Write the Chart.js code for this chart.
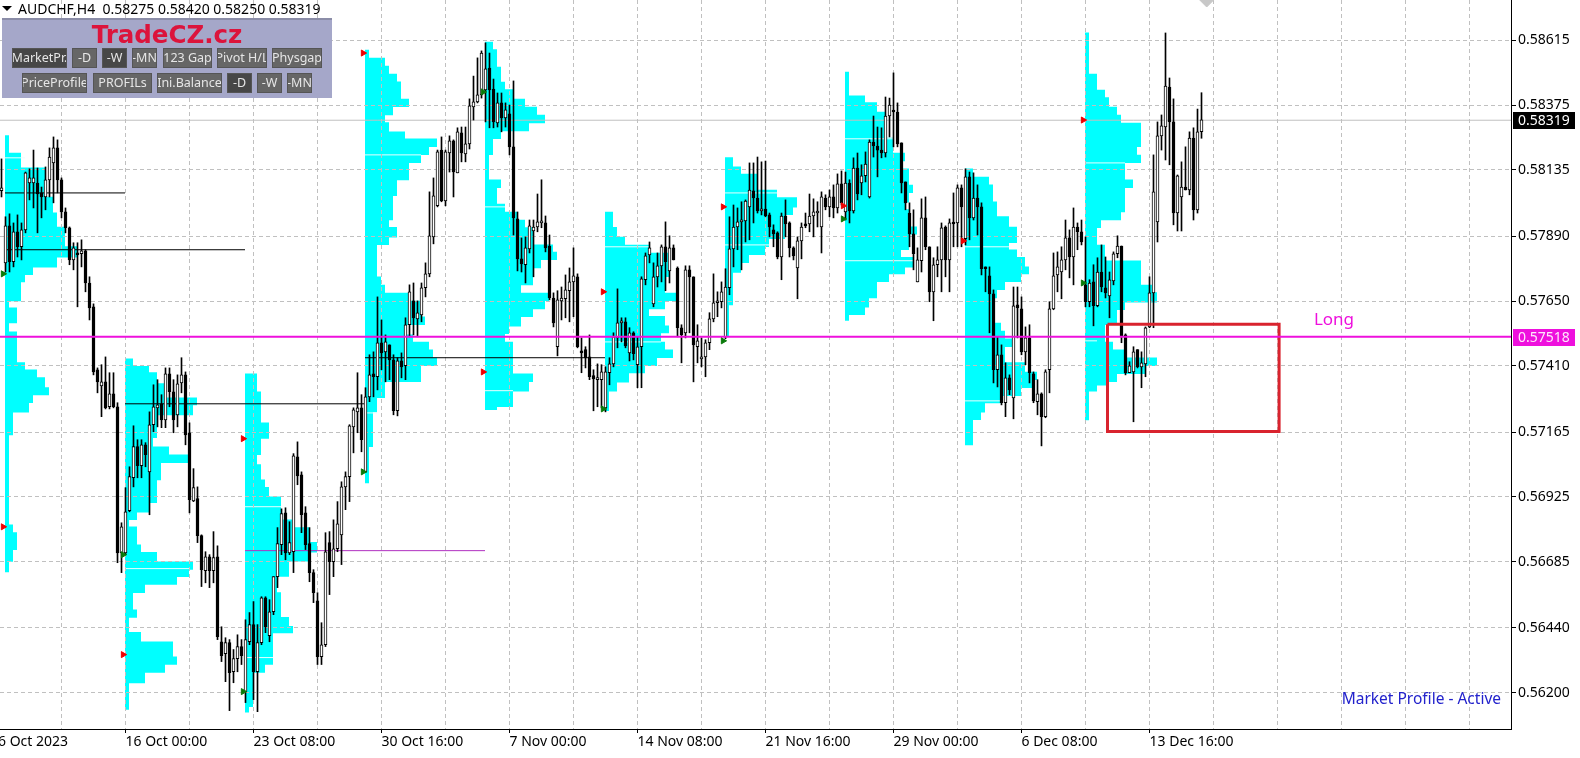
<!DOCTYPE html>
<html lang="en">

<head>
  <meta charset="UTF-8" />
  <title>AUDCHF,H4</title>
  <script src="https://cdn.jsdelivr.net/npm/chart.js"></script>
  <style>
    html, body { margin: 0; background: #fff; overflow: hidden; }
    #wrap { position: relative; width: 1580px; height: 758px; font-family: "Noto Sans", sans-serif; }
    canvas { position: absolute; left: 0; top: 0; }
    #head { position: absolute; left: 18px; top: 0; font-size: 14px; line-height: 18px; white-space: pre; color: #000; }
    #tri { position: absolute; left: 2px; top: 6px; border-left: 5px solid transparent; border-right: 5px solid transparent; border-top: 5px solid #000; }
    #panel { position: absolute; left: 2px; top: 18px; width: 330px; height: 80px; background: #a5a7c9; border-top: 2px solid #8b8da8; box-sizing: border-box; }
    #brand { position: absolute; left: 0; width: 330px; top: 2px; text-align: center; font: bold 24.5px/26px "DejaVu Sans", sans-serif; color: #dc143c; }
    .btn { position: absolute; height: 20px; line-height: 18px; background: #666; color: #e6e6e6; font-size: 12.5px; text-align: center; overflow: hidden; white-space: nowrap; box-sizing: border-box; border: 1px solid #555; display: flex; justify-content: center; }
    .btn.on { background: #474747; }
  </style>
</head>

<body>
  <div id="wrap">
    <canvas id="chart" width="1580" height="758"></canvas>
    <div id="tri"></div>
    <div id="head">AUDCHF,H4  0.58275 0.58420 0.58250 0.58319</div>
    <div id="panel"><div id="brand">TradeCZ.cz</div></div>
  </div>
  <script>
    // H4 candles, one entry per bar, in points of the 5th decimal
    const opens = [
      58054,57785,57923,57789,57901,57845,57908,58083,58083,58083,
      58046,58031,58095,58158,58214,58095,57975,57916,57796,57822,
      57819,57830,57710,57621,57386,57326,57341,57248,57296,57248,
      56703,56703,56860,56983,57099,57028,57106,57005,57181,57244,
      57259,57199,57371,57304,57218,57337,57367,57151,56897,56905,
      56767,56636,56688,56636,56688,56371,56327,56368,56259,56308,
      56353,56185,56371,56435,56259,56368,56535,56394,56483,56614,
      56733,56852,56703,56707,57061,56994,56852,56737,56629,56524,
      56315,56360,56741,56670,56718,56770,56949,56987,57173,57229,
      57244,57005,57285,57371,57360,57487,57453,57479,57423,57233,
      57419,57401,57554,57643,57576,57591,57692,57744,57882,57998,
      58206,58016,58195,58240,58121,58270,58192,58229,58367,58386,
      58412,58430,58512,58434,58307,58382,58326,58341,58218,57949,
      57800,57778,57837,57904,57919,57934,57934,57848,57654,57472,
      57643,57651,57681,57714,57733,57457,57461,57434,57364,57349,
      57349,57244,57375,57408,57505,57561,57565,57449,57524,57405,
      57472,57722,57815,57632,57733,57774,57845,57755,57841,57766,
      57543,57524,57759,57733,57472,57427,57434,57487,57576,57636,
      57640,57509,57692,57837,57919,57938,57942,57994,58054,58027,
      57979,57986,57964,57908,57897,57807,57960,57934,57841,57766,
      57867,57930,57930,57960,57971,57919,58027,57994,58031,57990,
      58080,57975,58083,57979,58139,58083,58110,58031,58236,58221,
      58206,58195,58333,58352,58348,58233,58087,57971,57893,57714,
      57793,57953,57845,57677,57778,57796,57919,57796,57934,57934,
      58065,57875,58106,57953,58027,57994,57766,57737,57669,57386,
      57442,57263,57356,57281,57628,57613,57453,57505,57371,57267,
      57296,57211,57386,57613,57740,57751,57796,57878,57807,57919,
      57901,57703,57640,57714,57625,57751,57692,57662,57718,57819,
      57848,57516,57375,57378,57461,57397,57408,57546,57673,57938,
      58259,58292,58441,58311,57971,58031,58068,58057,58251,57983,
      58275];
    const highs = [
      58173,57957,57968,57934,57964,57934,58124,58136,58206,58139,
      58068,58143,58214,58255,58244,58102,57990,57919,57860,57860,
      57871,57834,57733,57632,57393,57405,57434,57375,57375,57263,
      56815,56946,57024,57177,57125,57125,57114,57229,57330,57349,
      57293,57393,57393,57349,57367,57431,57378,57188,57017,56949,
      56770,56707,56696,56782,56729,56427,56386,56379,56342,56397,
      56379,56453,56480,56521,56435,56539,56539,56528,56614,56797,
      56867,56871,56819,57073,57117,57005,56875,56797,56640,56554,
      56442,56778,56782,56826,56894,56968,57005,57181,57244,57375,
      57293,57319,57442,57453,57658,57572,57516,57479,57442,57431,
      57449,57580,57703,57710,57643,57710,57785,58050,58102,58206,
      58255,58206,58259,58244,58289,58292,58292,58397,58482,58550,
      58576,58606,58568,58471,58419,58419,58382,58374,58464,57975,
      57878,57882,57945,57945,58042,58095,57960,57889,57673,57681,
      57695,57740,57766,57841,57744,57505,57472,57516,57386,57408,
      57405,57397,57431,57524,57688,57580,57580,57543,57528,57509,
      57733,57822,57863,57785,57822,57852,57938,57886,57852,57770,
      57554,57774,57774,57733,57554,57505,57498,57599,57744,57677,
      57714,57763,57957,58001,57990,58013,58020,58158,58158,58180,
      58162,58165,57971,57927,57901,57971,58020,57938,57845,57882,
      57934,57971,58042,58024,58013,58050,58039,58057,58076,58117,
      58128,58124,58095,58177,58195,58151,58199,58244,58333,58292,
      58289,58404,58400,58494,58382,58233,58087,58009,57983,57841,
      58024,58031,57845,57804,57845,57934,57923,57949,58046,58076,
      58076,58136,58124,58121,58076,58009,57770,57770,57684,57509,
      57479,57412,57367,57695,57695,57658,57546,57554,57378,57349,
      57300,57386,57640,57822,57826,57845,57945,57908,57990,57934,
      57945,57882,57722,57778,57804,57852,57807,57751,57826,57886,
      57848,57520,57416,57472,57461,57453,57546,57733,58188,58311,
      58337,58643,58475,58397,58113,58162,58218,58274,58289,58359,
      58420];
    const lows = [
      58031,57751,57751,57770,57807,57796,57897,58020,57990,57897,
      57953,57983,58031,58009,58046,57953,57897,57778,57759,57621,
      57770,57677,57572,57367,57300,57211,57240,57240,57244,56666,
      56629,56696,56856,56949,56983,56983,57024,56845,57155,57173,
      57170,57170,57248,57151,57173,57300,57106,56852,56894,56741,
      56577,56591,56573,56591,56379,56297,56222,56114,56218,56259,
      56286,56144,56360,56155,56110,56360,56405,56371,56472,56573,
      56696,56677,56696,56629,56957,56778,56715,56595,56517,56286,
      56286,56353,56547,56614,56707,56659,56864,56894,57076,57151,
      57080,57002,57267,57285,57311,57386,57341,57349,57218,57214,
      57356,57349,57509,57516,57509,57565,57658,57733,57856,57994,
      58013,57998,58124,58031,58121,58162,58162,58210,58318,58382,
      58400,58311,58289,58289,58292,58274,58292,58188,57889,57755,
      57751,57710,57822,57733,57901,57916,57826,57647,57546,57438,
      57572,57580,57565,57584,57468,57375,57393,57349,57233,57248,
      57244,57229,57330,57397,57468,57490,57468,57419,57423,57319,
      57319,57703,57785,57621,57695,57714,57681,57710,57796,57509,
      57412,57505,57524,57341,57412,57397,57360,57461,57565,57584,
      57617,57502,57666,57770,57834,57759,57863,57871,57934,57971,
      57964,57957,57882,57845,57800,57722,57882,57807,57796,57651,
      57800,57916,57901,57882,57919,57822,57983,57957,57953,57971,
      58001,57945,57934,57971,58020,58039,58087,58027,58180,58106,
      58177,58180,58255,58218,58218,58046,57983,57845,57759,57714,
      57751,57834,57640,57569,57733,57677,57733,57677,57845,57845,
      57845,57852,57871,57945,57889,57740,57677,57524,57337,57322,
      57255,57211,57293,57203,57505,57442,57405,57337,57263,57218,
      57102,57207,57300,57610,57677,57651,57759,57729,57703,57834,
      57852,57621,57621,57550,57621,57677,57654,57580,57703,57804,
      57487,57367,57375,57192,57393,57319,57360,57543,57543,57863,
      58206,58169,58151,57927,57904,57904,58057,58039,57945,57971,
      58250];
    const closes = [
      58065,57923,57789,57901,57845,57908,58121,58102,58102,58042,
      58031,58095,58180,58214,58095,57975,57916,57796,57841,57815,
      57830,57710,57617,57378,57341,57341,57244,57296,57248,56703,
      56800,56856,56987,57099,57028,57106,57069,57181,57248,57255,
      57199,57371,57304,57199,57334,57367,57143,56901,56946,56767,
      56640,56688,56636,56685,56390,56319,56368,56256,56308,56353,
      56319,56379,56435,56259,56368,56535,56427,56483,56614,56737,
      56849,56703,56741,57065,56990,56845,56733,56629,56554,56315,
      56360,56707,56670,56718,56811,56949,56987,57177,57237,57244,
      57125,57285,57367,57360,57487,57449,57490,57423,57233,57419,
      57397,57554,57677,57580,57599,57692,57744,57886,58035,58199,
      58016,58199,58240,58124,58274,58195,58229,58371,58386,58412,
      58568,58509,58430,58311,58382,58326,58356,58218,57953,57800,
      57781,57841,57923,57919,57938,57938,57841,57654,57561,57647,
      57654,57684,57714,57737,57472,57449,57431,57360,57352,57352,
      57378,57378,57408,57509,57561,57565,57475,57524,57446,57472,
      57725,57811,57841,57733,57774,57845,57789,57841,57796,57543,
      57516,57759,57733,57479,57494,57434,57487,57576,57636,57640,
      57677,57695,57837,57919,57938,57942,58016,58057,58027,57979,
      57986,57960,57919,57893,57807,57960,57930,57841,57811,57867,
      57919,57923,57960,57975,57975,58031,57994,58031,57990,58080,
      58009,58083,57979,58139,58042,58110,58154,58236,58221,58206,
      58195,58333,58374,58348,58229,58083,58009,57893,57819,57796,
      57953,57845,57677,57778,57796,57916,57796,57934,57930,58065,
      57994,58106,57953,58027,57994,57763,57763,57669,57386,57442,
      57263,57356,57311,57625,57617,57453,57505,57375,57270,57296,
      57211,57378,57613,57737,57770,57796,57878,57807,57919,57901,
      57863,57640,57710,57625,57751,57695,57673,57722,57819,57848,
      57509,57375,57401,57453,57397,57412,57543,57673,58050,58259,
      58296,58445,58311,57971,58110,58068,58057,58251,57983,58274,
      58319];

    // Market profiles: where each week starts, price of each step, TPO count of each step
    const profileStarts = [0.875, 30.875, 60.875, 90.875, 120.875, 150.875, 180.875, 210.875, 240.875, 270.875];
    const profileLevels = [
      [58259,58195,58139,58031,57971,57919,57845,57807,57770,57740,57714,57643,57617,57561,57528,57412,57386,57356,57319,57293,57263,57229,57143,56808,56778,56715,56670,56632],
      [57427,57397,57375,57334,57281,57255,57218,57132,57099,57069,57039,56976,56890,56856,56826,56800,56733,56703,56670,56640,56614,56584,56554,56491,56461,56405,56371,56315,56286,56256,56218,56118],
      [57371,57304,57188,57129,57069,57032,56976,56946,56912,56826,56797,56741,56707,56673,56614,56554,56461,56427,56405,56286,56256,56129,56110],
      [58580,58550,58520,58490,58460,58397,58367,58337,58307,58274,58248,58218,58188,58158,58095,58035,57945,57916,57882,57852,57733,57703,57673,57643,57584,57554,57516,57490,57461,57431,57401,57341,57281,57229,57099,57002,56964],
      [58609,58580,58516,58460,58430,58397,58367,58337,58307,58277,58248,58188,58095,58065,58005,57975,57945,57916,57852,57826,57796,57766,57703,57673,57643,57613,57584,57550,57520,57490,57371,57341,57308,57248,57240],
      [57975,57916,57882,57852,57822,57733,57673,57643,57613,57584,57550,57524,57490,57461,57431,57401,57375,57341,57308,57233],
      [58177,58143,58117,58057,58027,57994,57964,57875,57845,57815,57785,57751,57628,57509],
      [58497,58408,58382,58348,58318,58251,58195,58165,58136,58076,58046,58013,57983,57919,57893,57834,57804,57770,57744,57714,57654,57621,57591,57572],
      [58136,58106,58076,58013,57957,57919,57860,57834,57804,57770,57744,57714,57684,57654,57561,57531,57502,57472,57412,57378,57349,57319,57289,57263,57229,57199,57106],
      [58643,58490,58430,58400,58367,58337,58307,58218,58188,58158,58095,58065,57975,57945,57916,57852,57793,57703,57673,57640,57610,57554,57490,57461,57431,57401,57371,57341,57330,57308,57199]
    ];
    const profileCounts = [
      [1,4,10,12,13,15,18,13,7,5,4,1,3,1,3,5,8,10,11,7,6,2,1,2,3,2,1],
      [2,6,8,10,18,17,8,7,11,16,9,8,6,3,1,3,4,8,17,16,13,5,2,3,1,4,12,13,10,5,1],
      [3,4,6,4,3,4,5,6,9,12,16,18,16,11,8,9,11,12,7,5,2,1],
      [1,5,6,8,9,11,7,5,6,10,18,16,14,11,8,7,6,8,6,3,4,5,11,14,15,10,12,16,17,18,14,5,3,2,1,1],
      [2,3,4,5,7,10,13,15,11,4,2,1,4,3,5,8,10,12,17,18,14,12,9,16,15,12,9,6,5,7,12,11,7,3],
      [2,3,5,11,16,15,18,15,11,15,16,14,15,17,13,10,6,3,1],
      [2,4,8,13,18,17,15,11,10,6,4,2,1],
      [1,5,8,10,10,12,15,14,16,17,16,15,16,18,16,14,17,15,11,8,6,5,1],
      [2,6,7,8,11,13,11,13,15,16,14,10,8,7,9,10,12,10,15,18,17,14,9,5,4,2],
      [1,3,5,6,8,9,14,13,14,10,12,10,9,4,3,5,14,17,18,10,8,5,7,10,18,15,8,6,3,1]
    ];
    // value area edges: profile number, price, count
    const vaProfile = [0, 1, 2, 2, 3, 3, 4, 4, 5, 5, 6, 6, 7, 7, 8, 8, 9, 9];
    const vaPrices = [58177, 56644, 56875, 56312, 58188, 57225, 57994, 57308, 57845, 57490, 58046, 57852, 58248, 57793, 57845, 57270, 58158, 57494];
    const vaCounts = [5, 16, 9, 7, 14, 3, 5, 7, 11, 14, 13, 11, 12, 17, 11, 9, 10, 3];

    // POC lines running on from a profile, two weeks long except the first
    const pocStart = [0.875, 0.875, 30.875, 90.875];
    const pocEnd = [30.875, 60.875, 90.875, 150.875];
    const pocPrice = [58046, 57834, 57259, 57431];
    const purpleStart = 60.875, purpleEnd = 120.875, purplePrice = 56711;

    const redBars = [0.4, 30.4, 60.4, 90.4, 120.4, 150.4, 180.4, 210.4, 240.4, 270.4];
    const redPrices = [56800, 56323, 57129, 58568, 57378, 57677, 57994, 57998, 57867, 58318];
    const greenBars = [0.4, 30.4, 60.4, 90.4, 120.4, 150.4, 180.4, 210.4, 270.4];
    const greenPrices = [57744, 56696, 56185, 57005, 58423, 57240, 57494, 57949, 57710];

    const priceTicks = [0.58615, 0.58375, 0.58135, 0.57890, 0.57650, 0.57410, 0.57165, 0.56925, 0.56685, 0.56440, 0.56200];
    const timeBars = [-0.875, 31, 63, 95, 127, 159, 191, 223, 255, 287];
    const timeLabels = ["6 Oct 2023", "16 Oct 00:00", "23 Oct 08:00", "30 Oct 16:00", "7 Nov 00:00", "14 Nov 08:00", "21 Nov 16:00", "29 Nov 00:00", "6 Dec 08:00", "13 Dec 16:00"];
    const gridBars = [-0.875];
    for (let b = 15; b <= 367; b += 16) gridBars.push(b);

    const bidPrice = 0.58319;
    const linePrice = 0.57518;
    const boxBars = [276.5, 319.4], boxPrices = [0.57564, 0.57167];

    const xMin = -0.375, xMax = 377.375, yMin = 0.56066, yMax = 0.58764;

    // the arrays were read against the first ruler I measured, this puts them on the price axis
    const price = p => (58764 - 0.9917 * (58766 - p)) / 100000;

    const wicks = [], bodies = [], bodyFill = [];
    for (let i = 0; i < opens.length; i++) {
      wicks.push({ x: i, y: [price(lows[i]), price(highs[i])] });
      bodies.push({ x: i, y: [price(opens[i]), price(closes[i])] });
      bodyFill.push(closes[i] >= opens[i] ? '#fff' : '#000');
    }

    const gap = { x: null, y: null };
    const rows = [];
    profileLevels.forEach((levels, n) => {
      const start = profileStarts[n];
      profileCounts[n].forEach((count, k) => {
        const high = levels[k], low = levels[k + 1];
        const steps = Math.ceil((high - low) / 15);
        for (let s = 0; s < steps; s++) {
          const p = price(high - (high - low) * (s + 0.5) / steps);
          rows.push({ x: start, y: p }, { x: start + count, y: p }, gap);
        }
      });
    });

    const vaLines = [];
    vaPrices.forEach((p, k) => {
      const start = profileStarts[vaProfile[k]];
      vaLines.push({ x: start, y: price(p) }, { x: start + vaCounts[k], y: price(p) }, gap);
    });

    const pocLines = [];
    pocPrice.forEach((p, k) => {
      pocLines.push({ x: pocStart[k], y: price(p) }, { x: pocEnd[k], y: price(p) }, gap);
    });

    const lineSet = (data, color, width, order, extra) => Object.assign({
      type: 'line', data, borderColor: color, borderWidth: width, order,
      pointRadius: 0, spanGaps: false, tension: 0, fill: false
    }, extra || {});

    const dotSet = (xs, ys, color, style, radius) => ({
      type: 'line', showLine: false, order: 0, pointStyle: style, pointRadius: radius,
      pointRotation: style === 'triangle' ? 90 : 0,
      pointBackgroundColor: color, pointBorderColor: color, pointBorderWidth: 1,
      data: xs.map((x, k) => ({ x, y: price(ys[k]) }))
    });

    // profile goes under the grid, candles above it, so paint the grid again in between
    const regrid = {
      id: 'regrid',
      beforeDatasetDraw(chart, args) {
        if (chart.data.datasets[args.index].regrid) {
          chart.scales.x.drawGrid(chart.chartArea);
          chart.scales.y.drawGrid(chart.chartArea);
        }
      }
    };

    const notes = {
      id: 'notes',
      afterDraw(chart) {
        const ctx = chart.ctx, x = chart.scales.x, y = chart.scales.y;
        ctx.save();
        ctx.textBaseline = 'middle';
        ctx.textAlign = 'left';
        ctx.font = '14px "Noto Sans"';
        [[bidPrice, '#000', '#fff'], [linePrice, '#ee10dd', '#ffe6fb']].forEach(tag => {
          const py = Math.round(y.getPixelForValue(tag[0]));
          ctx.fillStyle = tag[1];
          ctx.fillRect(1513, py - 8, 62, 17);
          ctx.fillStyle = tag[2];
          ctx.fillText(tag[0].toFixed(5), 1518, py + 1);
        });
        ctx.fillStyle = '#ee10dd';
        ctx.font = '17px "Noto Sans"';
        ctx.fillText('Long', x.getPixelForValue(328.1), y.getPixelForValue(0.57580));
        ctx.fillStyle = '#2222cc';
        ctx.font = '15.5px "Noto Sans"';
        ctx.textAlign = 'right';
        ctx.fillText('Market Profile - Active', 1501, 700);
        ctx.restore();
      }
    };

    Chart.defaults.font.family = '"Noto Sans", sans-serif';
    Chart.defaults.font.size = 14;
    Chart.defaults.color = '#000';

    new Chart(document.getElementById('chart'), {
      type: 'bar',
      data: {
        datasets: [
          lineSet(rows, '#00ffff', 4.4, 10),
          lineSet(vaLines, '#e8ffff', 1, 9),
          lineSet(pocLines, '#000', 1, 8, { regrid: true }),
          lineSet([{ x: purpleStart, y: price(purplePrice) }, { x: purpleEnd, y: price(purplePrice) }], '#b030c0', 1, 8),
          lineSet([{ x: xMin, y: bidPrice }, { x: xMax, y: bidPrice }], '#c0c0c0', 1, 7),
          { type: 'bar', data: wicks, backgroundColor: '#000', barThickness: 1, grouped: false, order: 3 },
          { type: 'bar', data: bodies, backgroundColor: bodyFill, borderColor: '#000', borderWidth: 1, borderSkipped: false, barThickness: 3, minBarLength: 2, grouped: false, order: 2 },
          lineSet([{ x: xMin, y: linePrice }, { x: xMax, y: linePrice }], '#ee10dd', 2, 1),
          lineSet([
            { x: boxBars[0], y: boxPrices[0] }, { x: boxBars[1], y: boxPrices[0] },
            { x: boxBars[1], y: boxPrices[1] }, { x: boxBars[0], y: boxPrices[1] },
            { x: boxBars[0], y: boxPrices[0] }
          ], '#d9232e', 3, 1, { borderJoinStyle: 'miter' }),
          dotSet(redBars, redPrices, '#f00000', 'triangle', 3.5),
          dotSet(greenBars, greenPrices, '#0a7a0a', 'triangle', 3.5),
          { type: 'line', showLine: false, order: 0, pointStyle: 'rectRot', pointRadius: 7, pointBackgroundColor: '#c8c8c8', pointBorderColor: '#c8c8c8', data: [{ x: 301.3, y: yMax }] }
        ]
      },
      options: {
        responsive: false,
        devicePixelRatio: 1,
        animation: false,
        events: [],
        layout: { padding: 0, autoPadding: false },
        plugins: { legend: { display: false }, tooltip: { enabled: false } },
        scales: {
          x: {
            type: 'linear', min: xMin, max: xMax, offset: false,
            afterBuildTicks: s => { s.ticks = gridBars.map(v => ({ value: v })); },
            afterFit: s => { s.height = 29; s.paddingLeft = 0; s.paddingRight = 0; },
            ticks: {
              autoSkip: false, maxRotation: 0, minRotation: 0, align: 'start', padding: 1,
              callback: v => { const k = timeBars.indexOf(v); return k < 0 ? '' : timeLabels[k]; }
            },
            border: { color: '#000', dash: [4, 3] },
            grid: {
              offset: false,
              color: '#c0c0c0', tickLength: 4,
              tickColor: c => (c.tick && timeBars.includes(c.tick.value) ? '#000' : 'transparent')
            }
          },
          y: {
            type: 'linear', position: 'right', min: yMin, max: yMax,
            afterBuildTicks: s => { s.ticks = priceTicks.map(v => ({ value: v })); },
            afterFit: s => { s.width = 69; s.paddingTop = 0; s.paddingBottom = 0; },
            ticks: { padding: 2, callback: v => v.toFixed(5) },
            border: { color: '#000', dash: [4, 3] },
            grid: { color: '#c0c0c0', tickLength: 5, tickColor: '#000' }
          }
        }
      },
      plugins: [regrid, notes]
    });

    // button strip of the indicator
    const row1Names = ["MarketPr.", "-D", "-W", "-MN", "123 Gap", "Pivot H/L", "Physgap"];
    const row1Left = [10, 70, 100, 130, 161, 215, 270];
    const row1Width = [55, 25, 25, 25, 49, 50, 50];
    const row1On = [true, false, true, false, false, false, false];
    const row2Names = ["PriceProfile", "PROFILs", "Ini.Balance", "-D", "-W", "-MN"];
    const row2Left = [20, 91, 155, 225, 255, 285];
    const row2Width = [65, 59, 65, 25, 25, 25];
    const row2On = [false, false, false, true, false, false];

    const panel = document.getElementById('panel');
    function addButtons(names, lefts, widths, on, top) {
      names.forEach((name, k) => {
        const b = document.createElement('div');
        b.className = on[k] ? 'btn on' : 'btn';
        b.textContent = name;
        b.style.left = lefts[k] + 'px';
        b.style.width = widths[k] + 'px';
        b.style.top = top + 'px';
        panel.appendChild(b);
      });
    }
    addButtons(row1Names, row1Left, row1Width, row1On, 28);
    addButtons(row2Names, row2Left, row2Width, row2On, 53);
  </script>
</body>

</html>
